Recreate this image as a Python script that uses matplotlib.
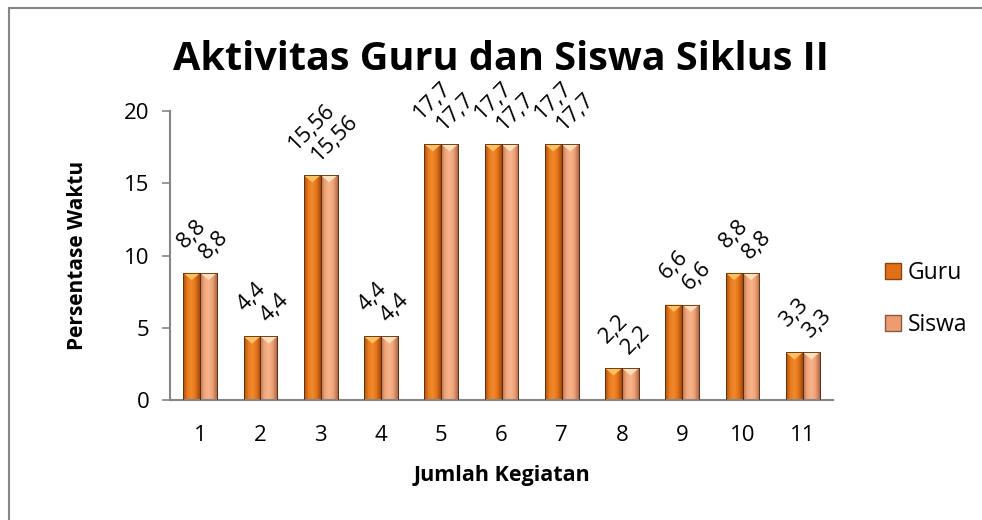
import matplotlib
matplotlib.use("Agg")
import matplotlib.pyplot as plt
import numpy as np
from matplotlib.colors import LinearSegmentedColormap
from matplotlib.patches import Rectangle, Patch

categories = ["1", "2", "3", "4", "5", "6", "7", "8", "9", "10", "11"]
guru = [8.8, 4.4, 15.56, 4.4, 17.7, 17.7, 17.7, 2.2, 6.6, 8.8, 3.3]
siswa = [8.8, 4.4, 15.56, 4.4, 17.7, 17.7, 17.7, 2.2, 6.6, 8.8, 3.3]
guru_labels = ["8,8", "4,4", "15,56", "4,4", "17,7", "17,7", "17,7", "2,2", "6,6", "8,8", "3,3"]
siswa_labels = ["8,8", "4,4", "15,56", "4,4", "17,7", "17,7", "17,7", "2,2", "6,6", "8,8", "3,3"]
yticks = [0, 5, 10, 15, 20]

plt.rcParams['font.family'] = ['Open Sans', 'DejaVu Sans']

fig = plt.figure(figsize=(9.82, 5.2), dpi=100)
ax = fig.add_axes([170/982, 1-400/520, 663/982, 289/520])

x = np.arange(1, len(categories) + 1)
w = 0.28
cm_guru = LinearSegmentedColormap.from_list("g", ["#a84e0c", "#e87a1e", "#f08a2c", "#e47218", "#a04a0e"])
cm_siswa = LinearSegmentedColormap.from_list("s", ["#b8704e", "#f2a67a", "#f7b48c", "#eea074", "#ad6a4c"])
grad = np.linspace(0, 1, 64).reshape(1, -1)

bars_g = ax.bar(x - w/2, guru, width=w, color="#e87a1e", edgecolor="#6b3510", linewidth=0.6, label="Guru", zorder=2)
bars_s = ax.bar(x + w/2, siswa, width=w, color="#f2a67a", edgecolor="#6b3510", linewidth=0.6, label="Siswa", zorder=2)

for bars, cmap, tip in ((bars_g, cm_guru, "#fbc060"), (bars_s, cm_siswa, "#fde0b8")):
    for b in bars:
        x0, y0, bw, bh = b.get_x(), b.get_y(), b.get_width(), b.get_height()
        im = ax.imshow(grad, cmap=cmap, aspect="auto", extent=[x0, x0 + bw, y0, y0 + bh], zorder=2.5)
        im.set_clip_path(b)
        tri_h = 0.5
        ax.fill([x0, x0 + bw, x0 + bw/2], [bh, bh, bh - tri_h], color=tip, zorder=2.6, lw=0)
        ax.add_patch(Rectangle((x0, y0), bw, bh, fill=False, edgecolor="#5a2c0c", lw=0.6, zorder=2.7))

ax.set_xlim(0.5, len(categories) + 0.5)
ax.set_ylim(0, 20)
ax.set_yticks(yticks)
ax.set_xticks(x)
ax.set_xticklabels(categories)
ax.tick_params(axis="y", length=6, width=1.2, color="#868686", labelsize=16, pad=9)
ax.tick_params(axis="x", length=0, labelsize=16, pad=18)
for s in ("top", "right"):
    ax.spines[s].set_visible(False)
for s in ("left", "bottom"):
    ax.spines[s].set_color("#868686")
    ax.spines[s].set_linewidth(1.5)

for xi, v, lab in zip(x, guru, guru_labels):
    ax.annotate(lab, (xi - w/2, v), xytext=(0, 15), textcoords="offset points",
                rotation=45, ha="center", va="bottom", fontsize=16, zorder=3)
for xi, v, lab in zip(x, siswa, siswa_labels):
    ax.annotate(lab, (xi + w/2, v), xytext=(4, 7), textcoords="offset points",
                rotation=45, ha="center", va="bottom", fontsize=16, zorder=3)

ax.set_ylabel("Persentase Waktu", fontsize=15, fontweight="bold")
ax.yaxis.set_label_coords(-0.123, 0.5)
ax.set_xlabel("Jumlah Kegiatan", fontsize=15.5, fontweight="bold")
ax.xaxis.set_label_coords(0.5, -0.225)

fig.text(501/982, 1-60/520, "Aktivitas Guru dan Siswa Siklus II", ha="center", va="center",
         fontsize=28.5, fontweight="bold")

handles = [Patch(facecolor="#e07018", edgecolor="#8a4210", label="Guru"),
           Patch(facecolor="#ec9c70", edgecolor="#8a5a40", label="Siswa")]
fig.legend(handles=handles, loc="center left", bbox_to_anchor=(864/982, 1-299/520), frameon=False,
           fontsize=16.5, handlelength=0.7, handleheight=0.7, labelspacing=1.2, handletextpad=0.3)

fig.add_artist(plt.Line2D([9/982, 1.0], [1-8/520, 1-8/520], transform=fig.transFigure, color="#868686", lw=1.5))
fig.add_artist(plt.Line2D([9/982, 9/982], [0, 1-8/520], transform=fig.transFigure, color="#868686", lw=1.5))

fig.savefig("out.png", dpi=100)
